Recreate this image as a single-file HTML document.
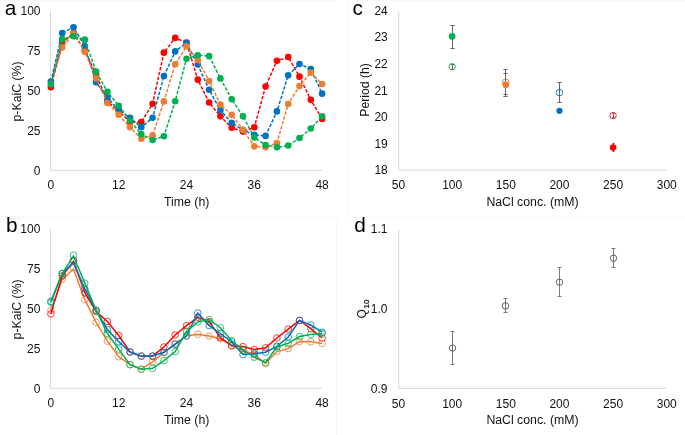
<!DOCTYPE html>
<html><head><meta charset="utf-8"><style>
html,body{margin:0;padding:0;background:#fff;}
svg{display:block;will-change:transform;}
text{font-family:"Liberation Sans",sans-serif;}
</style></head><body>
<svg width="685" height="435" viewBox="0 0 685 435">
<rect width="685" height="435" fill="#fff"/>
<path d="M0 216.5H337M0 218.5H336.5V435M348.5 0V217.5H685M348 0.5H685M0 0.5H337" fill="none" stroke="#F7F7F7" stroke-width="1"/>
<path d="M50.5 11.1V170.4H322.1" fill="none" stroke="#D9D9D9" stroke-width="1"/>
<text x="40.5" y="174.6" font-size="12" text-anchor="end" fill="#111111" >0</text>
<text x="40.5" y="134.65" font-size="12" text-anchor="end" fill="#111111" >25</text>
<text x="40.5" y="94.7" font-size="12" text-anchor="end" fill="#111111" >50</text>
<text x="40.5" y="54.75" font-size="12" text-anchor="end" fill="#111111" >75</text>
<text x="40.5" y="14.8" font-size="12" text-anchor="end" fill="#111111" >100</text>
<text x="50.9" y="189.3" font-size="12" text-anchor="middle" fill="#111111" >0</text>
<text x="118.7" y="189.3" font-size="12" text-anchor="middle" fill="#111111" >12</text>
<text x="186.5" y="189.3" font-size="12" text-anchor="middle" fill="#111111" >24</text>
<text x="254.3" y="189.3" font-size="12" text-anchor="middle" fill="#111111" >36</text>
<text x="322.1" y="189.3" font-size="12" text-anchor="middle" fill="#111111" >48</text>
<text x="186.7" y="205.8" font-size="12.3" text-anchor="middle" fill="#111111" >Time (h)</text>
<text x="20.9" y="91.45" font-size="12.3" text-anchor="middle" fill="#111111" transform="rotate(-90 20.9 91.45)">p-KaiC (%)</text>
<path d="M50.9 87.28 L62.2 42.66 L73.5 33.13 L84.8 50.6 L96.1 74.42 L107.4 101.42 L118.7 110.94 L130 122.06 L141.3 122.06 L152.6 103.8 L163.9 52.66 L175.2 37.9 L186.5 42.66 L197.8 79.66 L209.1 102.53 L220.4 116.34 L231.7 127.78 L243 131.59 L254.3 127.3 L265.6 86.49 L276.9 60.76 L288.2 57.11 L299.5 76.64 L310.8 99.83 L322.1 119.04" fill="none" stroke="#FF0000" stroke-width="1.5" stroke-dasharray="3.4 1.6"/>
<circle cx="50.9" cy="87.28" r="3.3" fill="#FF0000"/>
<circle cx="62.2" cy="42.66" r="3.3" fill="#FF0000"/>
<circle cx="73.5" cy="33.13" r="3.3" fill="#FF0000"/>
<circle cx="84.8" cy="50.6" r="3.3" fill="#FF0000"/>
<circle cx="96.1" cy="74.42" r="3.3" fill="#FF0000"/>
<circle cx="107.4" cy="101.42" r="3.3" fill="#FF0000"/>
<circle cx="118.7" cy="110.94" r="3.3" fill="#FF0000"/>
<circle cx="130" cy="122.06" r="3.3" fill="#FF0000"/>
<circle cx="141.3" cy="122.06" r="3.3" fill="#FF0000"/>
<circle cx="152.6" cy="103.8" r="3.3" fill="#FF0000"/>
<circle cx="163.9" cy="52.66" r="3.3" fill="#FF0000"/>
<circle cx="175.2" cy="37.9" r="3.3" fill="#FF0000"/>
<circle cx="186.5" cy="42.66" r="3.3" fill="#FF0000"/>
<circle cx="197.8" cy="79.66" r="3.3" fill="#FF0000"/>
<circle cx="209.1" cy="102.53" r="3.3" fill="#FF0000"/>
<circle cx="220.4" cy="116.34" r="3.3" fill="#FF0000"/>
<circle cx="231.7" cy="127.78" r="3.3" fill="#FF0000"/>
<circle cx="243" cy="131.59" r="3.3" fill="#FF0000"/>
<circle cx="254.3" cy="127.3" r="3.3" fill="#FF0000"/>
<circle cx="265.6" cy="86.49" r="3.3" fill="#FF0000"/>
<circle cx="276.9" cy="60.76" r="3.3" fill="#FF0000"/>
<circle cx="288.2" cy="57.11" r="3.3" fill="#FF0000"/>
<circle cx="299.5" cy="76.64" r="3.3" fill="#FF0000"/>
<circle cx="310.8" cy="99.83" r="3.3" fill="#FF0000"/>
<circle cx="322.1" cy="119.04" r="3.3" fill="#FF0000"/>
<path d="M50.9 81.57 L62.2 33.13 L73.5 27.26 L84.8 46.31 L96.1 82.2 L107.4 97.92 L118.7 109.67 L130 117.77 L141.3 127.3 L152.6 117.77 L163.9 76.01 L175.2 51.39 L186.5 42.98 L197.8 64.57 L209.1 89.82 L220.4 110.31 L231.7 122.85 L243 130 L254.3 134.92 L265.6 135.88 L276.9 111.42 L288.2 75.37 L299.5 63.94 L310.8 69.02 L322.1 93.63" fill="none" stroke="#0070C0" stroke-width="1.5" stroke-dasharray="3.4 1.6"/>
<circle cx="50.9" cy="81.57" r="3.3" fill="#0070C0"/>
<circle cx="62.2" cy="33.13" r="3.3" fill="#0070C0"/>
<circle cx="73.5" cy="27.26" r="3.3" fill="#0070C0"/>
<circle cx="84.8" cy="46.31" r="3.3" fill="#0070C0"/>
<circle cx="96.1" cy="82.2" r="3.3" fill="#0070C0"/>
<circle cx="107.4" cy="97.92" r="3.3" fill="#0070C0"/>
<circle cx="118.7" cy="109.67" r="3.3" fill="#0070C0"/>
<circle cx="130" cy="117.77" r="3.3" fill="#0070C0"/>
<circle cx="141.3" cy="127.3" r="3.3" fill="#0070C0"/>
<circle cx="152.6" cy="117.77" r="3.3" fill="#0070C0"/>
<circle cx="163.9" cy="76.01" r="3.3" fill="#0070C0"/>
<circle cx="175.2" cy="51.39" r="3.3" fill="#0070C0"/>
<circle cx="186.5" cy="42.98" r="3.3" fill="#0070C0"/>
<circle cx="197.8" cy="64.57" r="3.3" fill="#0070C0"/>
<circle cx="209.1" cy="89.82" r="3.3" fill="#0070C0"/>
<circle cx="220.4" cy="110.31" r="3.3" fill="#0070C0"/>
<circle cx="231.7" cy="122.85" r="3.3" fill="#0070C0"/>
<circle cx="243" cy="130" r="3.3" fill="#0070C0"/>
<circle cx="254.3" cy="134.92" r="3.3" fill="#0070C0"/>
<circle cx="265.6" cy="135.88" r="3.3" fill="#0070C0"/>
<circle cx="276.9" cy="111.42" r="3.3" fill="#0070C0"/>
<circle cx="288.2" cy="75.37" r="3.3" fill="#0070C0"/>
<circle cx="299.5" cy="63.94" r="3.3" fill="#0070C0"/>
<circle cx="310.8" cy="69.02" r="3.3" fill="#0070C0"/>
<circle cx="322.1" cy="93.63" r="3.3" fill="#0070C0"/>
<path d="M50.9 83.95 L62.2 47.42 L73.5 33.61 L84.8 51.87 L96.1 78.39 L107.4 103 L118.7 114.76 L130 127.3 L141.3 138.73 L152.6 135.4 L163.9 101.42 L175.2 64.26 L186.5 46.31 L197.8 59.97 L209.1 80.93 L220.4 104.59 L231.7 114.76 L243 129.84 L254.3 146.36 L265.6 147.31 L276.9 143.02 L288.2 103.96 L299.5 86.01 L310.8 72.67 L322.1 83.95" fill="none" stroke="#ED7D31" stroke-width="1.5" stroke-dasharray="3.4 1.6"/>
<circle cx="50.9" cy="83.95" r="3.3" fill="#ED7D31"/>
<circle cx="62.2" cy="47.42" r="3.3" fill="#ED7D31"/>
<circle cx="73.5" cy="33.61" r="3.3" fill="#ED7D31"/>
<circle cx="84.8" cy="51.87" r="3.3" fill="#ED7D31"/>
<circle cx="96.1" cy="78.39" r="3.3" fill="#ED7D31"/>
<circle cx="107.4" cy="103" r="3.3" fill="#ED7D31"/>
<circle cx="118.7" cy="114.76" r="3.3" fill="#ED7D31"/>
<circle cx="130" cy="127.3" r="3.3" fill="#ED7D31"/>
<circle cx="141.3" cy="138.73" r="3.3" fill="#ED7D31"/>
<circle cx="152.6" cy="135.4" r="3.3" fill="#ED7D31"/>
<circle cx="163.9" cy="101.42" r="3.3" fill="#ED7D31"/>
<circle cx="175.2" cy="64.26" r="3.3" fill="#ED7D31"/>
<circle cx="186.5" cy="46.31" r="3.3" fill="#ED7D31"/>
<circle cx="197.8" cy="59.97" r="3.3" fill="#ED7D31"/>
<circle cx="209.1" cy="80.93" r="3.3" fill="#ED7D31"/>
<circle cx="220.4" cy="104.59" r="3.3" fill="#ED7D31"/>
<circle cx="231.7" cy="114.76" r="3.3" fill="#ED7D31"/>
<circle cx="243" cy="129.84" r="3.3" fill="#ED7D31"/>
<circle cx="254.3" cy="146.36" r="3.3" fill="#ED7D31"/>
<circle cx="265.6" cy="147.31" r="3.3" fill="#ED7D31"/>
<circle cx="276.9" cy="143.02" r="3.3" fill="#ED7D31"/>
<circle cx="288.2" cy="103.96" r="3.3" fill="#ED7D31"/>
<circle cx="299.5" cy="86.01" r="3.3" fill="#ED7D31"/>
<circle cx="310.8" cy="72.67" r="3.3" fill="#ED7D31"/>
<circle cx="322.1" cy="83.95" r="3.3" fill="#ED7D31"/>
<path d="M50.9 84.27 L62.2 39.17 L73.5 36.31 L84.8 39.64 L96.1 71.56 L107.4 91.89 L118.7 105.7 L130 120.63 L141.3 134.13 L152.6 140 L163.9 136.19 L175.2 101.26 L186.5 58.7 L197.8 55.21 L209.1 56.16 L220.4 78.39 L231.7 99.19 L243 116.34 L254.3 137.46 L265.6 144.93 L276.9 147.31 L288.2 145.56 L299.5 137.94 L310.8 128.57 L322.1 116.34" fill="none" stroke="#00B050" stroke-width="1.5" stroke-dasharray="3.4 1.6"/>
<circle cx="50.9" cy="84.27" r="3.3" fill="#00B050"/>
<circle cx="62.2" cy="39.17" r="3.3" fill="#00B050"/>
<circle cx="73.5" cy="36.31" r="3.3" fill="#00B050"/>
<circle cx="84.8" cy="39.64" r="3.3" fill="#00B050"/>
<circle cx="96.1" cy="71.56" r="3.3" fill="#00B050"/>
<circle cx="107.4" cy="91.89" r="3.3" fill="#00B050"/>
<circle cx="118.7" cy="105.7" r="3.3" fill="#00B050"/>
<circle cx="130" cy="120.63" r="3.3" fill="#00B050"/>
<circle cx="141.3" cy="134.13" r="3.3" fill="#00B050"/>
<circle cx="152.6" cy="140" r="3.3" fill="#00B050"/>
<circle cx="163.9" cy="136.19" r="3.3" fill="#00B050"/>
<circle cx="175.2" cy="101.26" r="3.3" fill="#00B050"/>
<circle cx="186.5" cy="58.7" r="3.3" fill="#00B050"/>
<circle cx="197.8" cy="55.21" r="3.3" fill="#00B050"/>
<circle cx="209.1" cy="56.16" r="3.3" fill="#00B050"/>
<circle cx="220.4" cy="78.39" r="3.3" fill="#00B050"/>
<circle cx="231.7" cy="99.19" r="3.3" fill="#00B050"/>
<circle cx="243" cy="116.34" r="3.3" fill="#00B050"/>
<circle cx="254.3" cy="137.46" r="3.3" fill="#00B050"/>
<circle cx="265.6" cy="144.93" r="3.3" fill="#00B050"/>
<circle cx="276.9" cy="147.31" r="3.3" fill="#00B050"/>
<circle cx="288.2" cy="145.56" r="3.3" fill="#00B050"/>
<circle cx="299.5" cy="137.94" r="3.3" fill="#00B050"/>
<circle cx="310.8" cy="128.57" r="3.3" fill="#00B050"/>
<circle cx="322.1" cy="116.34" r="3.3" fill="#00B050"/>
<text x="4.7" y="14.6" font-size="20.8" text-anchor="start" fill="#000" >a</text>
<path d="M50.5 228.6V388.3H322.1" fill="none" stroke="#D9D9D9" stroke-width="1"/>
<text x="40.4" y="392.8" font-size="12" text-anchor="end" fill="#111111" >0</text>
<text x="40.4" y="352.8" font-size="12" text-anchor="end" fill="#111111" >25</text>
<text x="40.4" y="312.8" font-size="12" text-anchor="end" fill="#111111" >50</text>
<text x="40.4" y="272.8" font-size="12" text-anchor="end" fill="#111111" >75</text>
<text x="40.4" y="232.8" font-size="12" text-anchor="end" fill="#111111" >100</text>
<text x="50.9" y="406.8" font-size="12" text-anchor="middle" fill="#111111" >0</text>
<text x="118.7" y="406.8" font-size="12" text-anchor="middle" fill="#111111" >12</text>
<text x="186.5" y="406.8" font-size="12" text-anchor="middle" fill="#111111" >24</text>
<text x="254.3" y="406.8" font-size="12" text-anchor="middle" fill="#111111" >36</text>
<text x="322.1" y="406.8" font-size="12" text-anchor="middle" fill="#111111" >48</text>
<text x="186.7" y="424" font-size="12.3" text-anchor="middle" fill="#111111" >Time (h)</text>
<text x="20.9" y="309.4" font-size="12.3" text-anchor="middle" fill="#111111" transform="rotate(-90 20.9 309.4)">p-KaiC (%)</text>
<path d="M50.9 310.5 L62.2 279.4 L73.5 269 L84.8 299.7 L96.1 322.4 L107.4 341.1 L118.7 356.7 L130 364.7 L141.3 369.2 L152.6 361.8 L163.9 352.6 L175.2 343.5 L186.5 336 L197.8 334.2 L209.1 336 L220.4 338.7 L231.7 345.7 L243 350.5 L254.3 354.5 L265.6 363.6 L276.9 351.6 L288.2 348.6 L299.5 341.6 L310.8 341.8 L322.1 343.4" fill="none" stroke="#ED7D31" stroke-width="1.5" stroke-linejoin="miter" stroke-miterlimit="10"/>
<circle cx="50.9" cy="310.5" r="3.3" fill="none" stroke="#ED7D31" stroke-width="0.9" opacity="0.85"/>
<circle cx="62.2" cy="279.4" r="3.3" fill="none" stroke="#ED7D31" stroke-width="0.9" opacity="0.85"/>
<circle cx="73.5" cy="267.8" r="3.3" fill="none" stroke="#ED7D31" stroke-width="0.9" opacity="0.85"/>
<circle cx="84.8" cy="299.7" r="3.3" fill="none" stroke="#ED7D31" stroke-width="0.9" opacity="0.85"/>
<circle cx="96.1" cy="322.4" r="3.3" fill="none" stroke="#ED7D31" stroke-width="0.9" opacity="0.85"/>
<circle cx="107.4" cy="341.1" r="3.3" fill="none" stroke="#ED7D31" stroke-width="0.9" opacity="0.85"/>
<circle cx="118.7" cy="356.7" r="3.3" fill="none" stroke="#ED7D31" stroke-width="0.9" opacity="0.85"/>
<circle cx="130" cy="364.7" r="3.3" fill="none" stroke="#ED7D31" stroke-width="0.9" opacity="0.85"/>
<circle cx="141.3" cy="369.2" r="3.3" fill="none" stroke="#ED7D31" stroke-width="0.9" opacity="0.85"/>
<circle cx="152.6" cy="361.8" r="3.3" fill="none" stroke="#ED7D31" stroke-width="0.9" opacity="0.85"/>
<circle cx="163.9" cy="352.6" r="3.3" fill="none" stroke="#ED7D31" stroke-width="0.9" opacity="0.85"/>
<circle cx="175.2" cy="343.5" r="3.3" fill="none" stroke="#ED7D31" stroke-width="0.9" opacity="0.85"/>
<circle cx="186.5" cy="336" r="3.3" fill="none" stroke="#ED7D31" stroke-width="0.9" opacity="0.85"/>
<circle cx="197.8" cy="334.2" r="3.3" fill="none" stroke="#ED7D31" stroke-width="0.9" opacity="0.85"/>
<circle cx="209.1" cy="336" r="3.3" fill="none" stroke="#ED7D31" stroke-width="0.9" opacity="0.85"/>
<circle cx="220.4" cy="338.7" r="3.3" fill="none" stroke="#ED7D31" stroke-width="0.9" opacity="0.85"/>
<circle cx="231.7" cy="345.7" r="3.3" fill="none" stroke="#ED7D31" stroke-width="0.9" opacity="0.85"/>
<circle cx="243" cy="350.5" r="3.3" fill="none" stroke="#ED7D31" stroke-width="0.9" opacity="0.85"/>
<circle cx="254.3" cy="354.5" r="3.3" fill="none" stroke="#ED7D31" stroke-width="0.9" opacity="0.85"/>
<circle cx="265.6" cy="363.6" r="3.3" fill="none" stroke="#ED7D31" stroke-width="0.9" opacity="0.85"/>
<circle cx="276.9" cy="351.6" r="3.3" fill="none" stroke="#ED7D31" stroke-width="0.9" opacity="0.85"/>
<circle cx="288.2" cy="348.6" r="3.3" fill="none" stroke="#ED7D31" stroke-width="0.9" opacity="0.85"/>
<circle cx="299.5" cy="341.6" r="3.3" fill="none" stroke="#ED7D31" stroke-width="0.9" opacity="0.85"/>
<circle cx="310.8" cy="341.8" r="3.3" fill="none" stroke="#ED7D31" stroke-width="0.9" opacity="0.85"/>
<circle cx="322.1" cy="343.4" r="3.3" fill="none" stroke="#ED7D31" stroke-width="0.9" opacity="0.85"/>
<path d="M50.9 313.9 L62.2 276 L73.5 261.4 L84.8 292.7 L96.1 311.5 L107.4 321.5 L118.7 335.5 L130 352 L141.3 356.2 L152.6 356.2 L163.9 347 L175.2 335 L186.5 325.6 L197.8 317.3 L209.1 321.6 L220.4 337.5 L231.7 345.8 L243 346.6 L254.3 349.5 L265.6 347.8 L276.9 338 L288.2 329.1 L299.5 320.4 L310.8 328.7 L322.1 338" fill="none" stroke="#FF0000" stroke-width="1.5" stroke-linejoin="miter" stroke-miterlimit="10"/>
<circle cx="50.9" cy="313.9" r="3.3" fill="none" stroke="#FF0000" stroke-width="0.9" opacity="0.85"/>
<circle cx="62.2" cy="276" r="3.3" fill="none" stroke="#FF0000" stroke-width="0.9" opacity="0.85"/>
<circle cx="73.5" cy="260.2" r="3.3" fill="none" stroke="#FF0000" stroke-width="0.9" opacity="0.85"/>
<circle cx="84.8" cy="292.7" r="3.3" fill="none" stroke="#FF0000" stroke-width="0.9" opacity="0.85"/>
<circle cx="96.1" cy="311.5" r="3.3" fill="none" stroke="#FF0000" stroke-width="0.9" opacity="0.85"/>
<circle cx="107.4" cy="321.5" r="3.3" fill="none" stroke="#FF0000" stroke-width="0.9" opacity="0.85"/>
<circle cx="118.7" cy="335.5" r="3.3" fill="none" stroke="#FF0000" stroke-width="0.9" opacity="0.85"/>
<circle cx="130" cy="352" r="3.3" fill="none" stroke="#FF0000" stroke-width="0.9" opacity="0.85"/>
<circle cx="141.3" cy="356.2" r="3.3" fill="none" stroke="#FF0000" stroke-width="0.9" opacity="0.85"/>
<circle cx="152.6" cy="356.2" r="3.3" fill="none" stroke="#FF0000" stroke-width="0.9" opacity="0.85"/>
<circle cx="163.9" cy="347" r="3.3" fill="none" stroke="#FF0000" stroke-width="0.9" opacity="0.85"/>
<circle cx="175.2" cy="335" r="3.3" fill="none" stroke="#FF0000" stroke-width="0.9" opacity="0.85"/>
<circle cx="186.5" cy="325.6" r="3.3" fill="none" stroke="#FF0000" stroke-width="0.9" opacity="0.85"/>
<circle cx="197.8" cy="317.3" r="3.3" fill="none" stroke="#FF0000" stroke-width="0.9" opacity="0.85"/>
<circle cx="209.1" cy="321.6" r="3.3" fill="none" stroke="#FF0000" stroke-width="0.9" opacity="0.85"/>
<circle cx="220.4" cy="337.5" r="3.3" fill="none" stroke="#FF0000" stroke-width="0.9" opacity="0.85"/>
<circle cx="231.7" cy="345.8" r="3.3" fill="none" stroke="#FF0000" stroke-width="0.9" opacity="0.85"/>
<circle cx="243" cy="346.6" r="3.3" fill="none" stroke="#FF0000" stroke-width="0.9" opacity="0.85"/>
<circle cx="254.3" cy="349.5" r="3.3" fill="none" stroke="#FF0000" stroke-width="0.9" opacity="0.85"/>
<circle cx="265.6" cy="347.8" r="3.3" fill="none" stroke="#FF0000" stroke-width="0.9" opacity="0.85"/>
<circle cx="276.9" cy="338" r="3.3" fill="none" stroke="#FF0000" stroke-width="0.9" opacity="0.85"/>
<circle cx="288.2" cy="329.1" r="3.3" fill="none" stroke="#FF0000" stroke-width="0.9" opacity="0.85"/>
<circle cx="299.5" cy="320.4" r="3.3" fill="none" stroke="#FF0000" stroke-width="0.9" opacity="0.85"/>
<circle cx="310.8" cy="328.7" r="3.3" fill="none" stroke="#FF0000" stroke-width="0.9" opacity="0.85"/>
<circle cx="322.1" cy="338" r="3.3" fill="none" stroke="#FF0000" stroke-width="0.9" opacity="0.85"/>
<path d="M50.9 301.3 L62.2 273.5 L73.5 262.7 L84.8 288.8 L96.1 310.2 L107.4 329.5 L118.7 341.8 L130 352 L141.3 356 L152.6 356 L163.9 352.3 L175.2 344.3 L186.5 335.8 L197.8 313 L209.1 325.6 L220.4 333.5 L231.7 342 L243 354.6 L254.3 353.8 L265.6 352.2 L276.9 346.3 L288.2 337 L299.5 320.4 L310.8 324.9 L322.1 332.2" fill="none" stroke="#0070C0" stroke-width="1.5" stroke-linejoin="miter" stroke-miterlimit="10"/>
<circle cx="50.9" cy="301.3" r="3.3" fill="none" stroke="#0070C0" stroke-width="0.9" opacity="0.85"/>
<circle cx="62.2" cy="273.5" r="3.3" fill="none" stroke="#0070C0" stroke-width="0.9" opacity="0.85"/>
<circle cx="73.5" cy="260.8" r="3.3" fill="none" stroke="#0070C0" stroke-width="0.9" opacity="0.85"/>
<circle cx="84.8" cy="288.8" r="3.3" fill="none" stroke="#0070C0" stroke-width="0.9" opacity="0.85"/>
<circle cx="96.1" cy="310.2" r="3.3" fill="none" stroke="#0070C0" stroke-width="0.9" opacity="0.85"/>
<circle cx="107.4" cy="329.5" r="3.3" fill="none" stroke="#0070C0" stroke-width="0.9" opacity="0.85"/>
<circle cx="118.7" cy="341.8" r="3.3" fill="none" stroke="#0070C0" stroke-width="0.9" opacity="0.85"/>
<circle cx="130" cy="352" r="3.3" fill="none" stroke="#0070C0" stroke-width="0.9" opacity="0.85"/>
<circle cx="141.3" cy="356" r="3.3" fill="none" stroke="#0070C0" stroke-width="0.9" opacity="0.85"/>
<circle cx="152.6" cy="356" r="3.3" fill="none" stroke="#0070C0" stroke-width="0.9" opacity="0.85"/>
<circle cx="163.9" cy="352.3" r="3.3" fill="none" stroke="#0070C0" stroke-width="0.9" opacity="0.85"/>
<circle cx="175.2" cy="344.3" r="3.3" fill="none" stroke="#0070C0" stroke-width="0.9" opacity="0.85"/>
<circle cx="186.5" cy="335.8" r="3.3" fill="none" stroke="#0070C0" stroke-width="0.9" opacity="0.85"/>
<circle cx="197.8" cy="313" r="3.3" fill="none" stroke="#0070C0" stroke-width="0.9" opacity="0.85"/>
<circle cx="209.1" cy="325.6" r="3.3" fill="none" stroke="#0070C0" stroke-width="0.9" opacity="0.85"/>
<circle cx="220.4" cy="333.5" r="3.3" fill="none" stroke="#0070C0" stroke-width="0.9" opacity="0.85"/>
<circle cx="231.7" cy="342" r="3.3" fill="none" stroke="#0070C0" stroke-width="0.9" opacity="0.85"/>
<circle cx="243" cy="354.6" r="3.3" fill="none" stroke="#0070C0" stroke-width="0.9" opacity="0.85"/>
<circle cx="254.3" cy="353.8" r="3.3" fill="none" stroke="#0070C0" stroke-width="0.9" opacity="0.85"/>
<circle cx="265.6" cy="352.2" r="3.3" fill="none" stroke="#0070C0" stroke-width="0.9" opacity="0.85"/>
<circle cx="276.9" cy="346.3" r="3.3" fill="none" stroke="#0070C0" stroke-width="0.9" opacity="0.85"/>
<circle cx="288.2" cy="337" r="3.3" fill="none" stroke="#0070C0" stroke-width="0.9" opacity="0.85"/>
<circle cx="299.5" cy="320.4" r="3.3" fill="none" stroke="#0070C0" stroke-width="0.9" opacity="0.85"/>
<circle cx="310.8" cy="324.9" r="3.3" fill="none" stroke="#0070C0" stroke-width="0.9" opacity="0.85"/>
<circle cx="322.1" cy="332.2" r="3.3" fill="none" stroke="#0070C0" stroke-width="0.9" opacity="0.85"/>
<path d="M50.9 302.4 L62.2 273.5 L73.5 256 L84.8 283.1 L96.1 310.2 L107.4 333.6 L118.7 349.1 L130 364.7 L141.3 369.2 L152.6 368.3 L163.9 360.6 L175.2 351.6 L186.5 331.6 L197.8 322 L209.1 319.6 L220.4 327.7 L231.7 340.8 L243 349.8 L254.3 357.2 L265.6 362.6 L276.9 347 L288.2 343.3 L299.5 336.5 L310.8 334.5 L322.1 333.5" fill="none" stroke="#00B050" stroke-width="1.5" stroke-linejoin="miter" stroke-miterlimit="10"/>
<circle cx="50.9" cy="302.4" r="3.3" fill="none" stroke="#00B050" stroke-width="0.9" opacity="0.85"/>
<circle cx="62.2" cy="273.5" r="3.3" fill="none" stroke="#00B050" stroke-width="0.9" opacity="0.85"/>
<circle cx="73.5" cy="255.2" r="3.3" fill="none" stroke="#00B050" stroke-width="0.9" opacity="0.85"/>
<circle cx="84.8" cy="283.1" r="3.3" fill="none" stroke="#00B050" stroke-width="0.9" opacity="0.85"/>
<circle cx="96.1" cy="310.2" r="3.3" fill="none" stroke="#00B050" stroke-width="0.9" opacity="0.85"/>
<circle cx="107.4" cy="333.6" r="3.3" fill="none" stroke="#00B050" stroke-width="0.9" opacity="0.85"/>
<circle cx="118.7" cy="349.1" r="3.3" fill="none" stroke="#00B050" stroke-width="0.9" opacity="0.85"/>
<circle cx="130" cy="364.7" r="3.3" fill="none" stroke="#00B050" stroke-width="0.9" opacity="0.85"/>
<circle cx="141.3" cy="369.2" r="3.3" fill="none" stroke="#00B050" stroke-width="0.9" opacity="0.85"/>
<circle cx="152.6" cy="368.3" r="3.3" fill="none" stroke="#00B050" stroke-width="0.9" opacity="0.85"/>
<circle cx="163.9" cy="360.6" r="3.3" fill="none" stroke="#00B050" stroke-width="0.9" opacity="0.85"/>
<circle cx="175.2" cy="351.6" r="3.3" fill="none" stroke="#00B050" stroke-width="0.9" opacity="0.85"/>
<circle cx="186.5" cy="331.6" r="3.3" fill="none" stroke="#00B050" stroke-width="0.9" opacity="0.85"/>
<circle cx="197.8" cy="322" r="3.3" fill="none" stroke="#00B050" stroke-width="0.9" opacity="0.85"/>
<circle cx="209.1" cy="319.6" r="3.3" fill="none" stroke="#00B050" stroke-width="0.9" opacity="0.85"/>
<circle cx="220.4" cy="327.7" r="3.3" fill="none" stroke="#00B050" stroke-width="0.9" opacity="0.85"/>
<circle cx="231.7" cy="340.8" r="3.3" fill="none" stroke="#00B050" stroke-width="0.9" opacity="0.85"/>
<circle cx="243" cy="349.8" r="3.3" fill="none" stroke="#00B050" stroke-width="0.9" opacity="0.85"/>
<circle cx="254.3" cy="357.2" r="3.3" fill="none" stroke="#00B050" stroke-width="0.9" opacity="0.85"/>
<circle cx="265.6" cy="362.6" r="3.3" fill="none" stroke="#00B050" stroke-width="0.9" opacity="0.85"/>
<circle cx="276.9" cy="347" r="3.3" fill="none" stroke="#00B050" stroke-width="0.9" opacity="0.85"/>
<circle cx="288.2" cy="343.3" r="3.3" fill="none" stroke="#00B050" stroke-width="0.9" opacity="0.85"/>
<circle cx="299.5" cy="336.5" r="3.3" fill="none" stroke="#00B050" stroke-width="0.9" opacity="0.85"/>
<circle cx="310.8" cy="334.5" r="3.3" fill="none" stroke="#00B050" stroke-width="0.9" opacity="0.85"/>
<circle cx="322.1" cy="333.5" r="3.3" fill="none" stroke="#00B050" stroke-width="0.9" opacity="0.85"/>
<text x="6.06" y="231.5" font-size="20.8" text-anchor="start" fill="#000" >b</text>
<path d="M398.7 11.4V170.2H666.4" fill="none" stroke="#D9D9D9" stroke-width="1"/>
<text x="387.8" y="174.2" font-size="12" text-anchor="end" fill="#111111" >18</text>
<text x="387.8" y="147.65" font-size="12" text-anchor="end" fill="#111111" >19</text>
<text x="387.8" y="121.1" font-size="12" text-anchor="end" fill="#111111" >20</text>
<text x="387.8" y="94.55" font-size="12" text-anchor="end" fill="#111111" >21</text>
<text x="387.8" y="68" font-size="12" text-anchor="end" fill="#111111" >22</text>
<text x="387.8" y="41.45" font-size="12" text-anchor="end" fill="#111111" >23</text>
<text x="387.8" y="14.9" font-size="12" text-anchor="end" fill="#111111" >24</text>
<text x="398.5" y="189" font-size="12" text-anchor="middle" fill="#111111" >50</text>
<text x="452.15" y="189" font-size="12" text-anchor="middle" fill="#111111" >100</text>
<text x="505.8" y="189" font-size="12" text-anchor="middle" fill="#111111" >150</text>
<text x="559.45" y="189" font-size="12" text-anchor="middle" fill="#111111" >200</text>
<text x="613.1" y="189" font-size="12" text-anchor="middle" fill="#111111" >250</text>
<text x="666.75" y="189" font-size="12" text-anchor="middle" fill="#111111" >300</text>
<text x="532.5" y="205.6" font-size="12.3" text-anchor="middle" fill="#111111" >NaCl conc. (mM)</text>
<text x="368.8" y="89.95" font-size="12.2" text-anchor="middle" fill="#111111" transform="rotate(-90 368.8 89.95)">Period (h)</text>
<circle cx="452.15" cy="66.7" r="3.2" fill="#fff" stroke="#00B050" stroke-width="0.9"/>
<path d="M452.5 64.5V69.5M451 64.5H454M451 69.5H454" stroke="#666666" stroke-width="1" fill="none"/>
<path d="M452.5 25.5V48.5M450.4 25.5H454.6M450.4 48.5H454.6" stroke="#666666" stroke-width="1" fill="none"/>
<circle cx="452.15" cy="36.4" r="3.3" fill="#00B050"/>
<circle cx="505.8" cy="82.2" r="3.3" fill="#fff" stroke="#ED7D31" stroke-width="1"/>
<path d="M505.5 69.5V94.5M503.4 69.5H507.6M503.4 94.5H507.6" stroke="#666666" stroke-width="1" fill="none"/>
<path d="M505.5 73.5V96.5M503.4 73.5H507.6M503.4 96.5H507.6" stroke="#666666" stroke-width="1" fill="none"/>
<circle cx="505.8" cy="84.8" r="3.4" fill="#ED7D31"/>
<circle cx="559.45" cy="110.8" r="3.1" fill="#0070C0"/>
<path d="M559.5 82.5V102.5M557.4 82.5H561.6M557.4 102.5H561.6" stroke="#666666" stroke-width="1" fill="none"/>
<circle cx="559.45" cy="92.5" r="3.3" fill="#fff" fill-opacity="0" stroke="#0070C0" stroke-width="0.85"/>
<circle cx="613.1" cy="115.6" r="3.2" fill="#fff" stroke="#FF0000" stroke-width="0.85"/>
<path d="M613.5 113.5V117.5M612.3 113.5H614.7M612.3 117.5H614.7" stroke="#666666" stroke-width="1" fill="none"/>
<path d="M613.5 143.5V151.5M612.3 143.5H614.7M612.3 151.5H614.7" stroke="#666666" stroke-width="1" fill="none"/>
<circle cx="613.1" cy="147.6" r="3.3" fill="#FF0000"/>
<text x="352.6" y="14.6" font-size="20.8" text-anchor="start" fill="#000" >c</text>
<path d="M398.7 229.7V388.4H666.4" fill="none" stroke="#D9D9D9" stroke-width="1"/>
<text x="387.5" y="392.8" font-size="12" text-anchor="end" fill="#111111" >0.9</text>
<text x="387.5" y="312.85" font-size="12" text-anchor="end" fill="#111111" >1.0</text>
<text x="387.5" y="232.9" font-size="12" text-anchor="end" fill="#111111" >1.1</text>
<text x="398.5" y="407.6" font-size="12" text-anchor="middle" fill="#111111" >50</text>
<text x="452.15" y="407.6" font-size="12" text-anchor="middle" fill="#111111" >100</text>
<text x="505.8" y="407.6" font-size="12" text-anchor="middle" fill="#111111" >150</text>
<text x="559.45" y="407.6" font-size="12" text-anchor="middle" fill="#111111" >200</text>
<text x="613.1" y="407.6" font-size="12" text-anchor="middle" fill="#111111" >250</text>
<text x="666.75" y="407.6" font-size="12" text-anchor="middle" fill="#111111" >300</text>
<text x="532.5" y="423.8" font-size="12.3" text-anchor="middle" fill="#111111" >NaCl conc. (mM)</text>
<text transform="translate(366,318.5) rotate(-90)" font-size="12" fill="#111111">Q<tspan font-size="8" dx="0.6" dy="3" stroke="#111" stroke-width="0.25">10</tspan></text>
<path d="M452.5 331.5V364.5M450.5 331.5H454.5M450.5 364.5H454.5" stroke="#7A7A7A" stroke-width="1" fill="none"/>
<circle cx="452.5" cy="348.1" r="3.2" fill="none" stroke="#505050" stroke-width="0.9"/>
<path d="M505.5 298.5V312.5M503.5 298.5H507.5M503.5 312.5H507.5" stroke="#7A7A7A" stroke-width="1" fill="none"/>
<circle cx="505.5" cy="305.9" r="3.2" fill="none" stroke="#505050" stroke-width="0.9"/>
<path d="M559.5 267.5V296.5M557.5 267.5H561.5M557.5 296.5H561.5" stroke="#7A7A7A" stroke-width="1" fill="none"/>
<circle cx="559.5" cy="282.2" r="3.2" fill="none" stroke="#505050" stroke-width="0.9"/>
<path d="M613.5 248.5V267.5M611.5 248.5H615.5M611.5 267.5H615.5" stroke="#7A7A7A" stroke-width="1" fill="none"/>
<circle cx="613.5" cy="258.2" r="3.2" fill="none" stroke="#505050" stroke-width="0.9"/>
<text x="354.2" y="232" font-size="20.8" text-anchor="start" fill="#000" >d</text>
</svg></body></html>
